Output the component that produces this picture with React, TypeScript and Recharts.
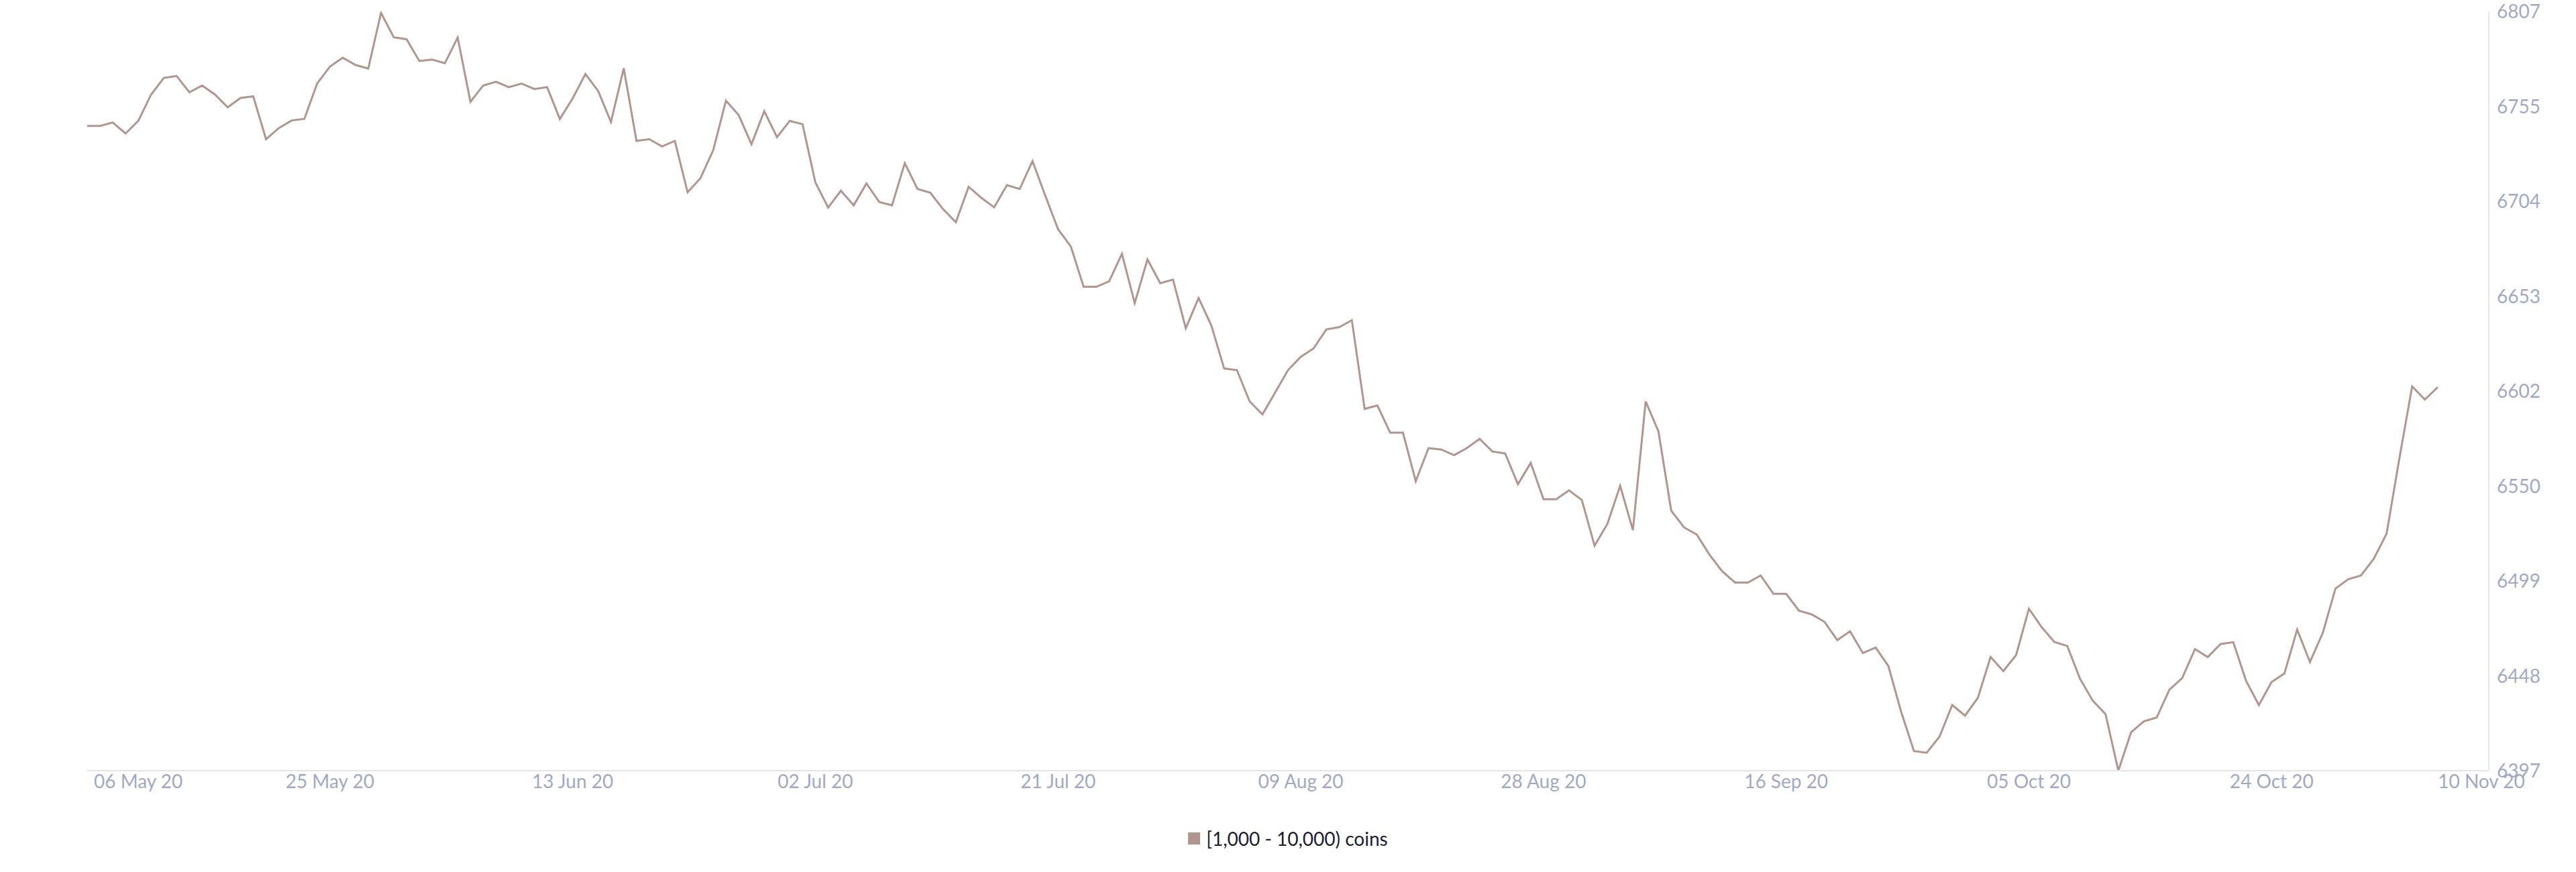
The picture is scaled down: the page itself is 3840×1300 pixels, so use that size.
import React from "react";
import { LineChart, Line, XAxis, YAxis, Legend } from "recharts";

// Daily values, 06 May 2020 -> 06 Nov 2020
const values: number[] = [
  6745.2, 6745.2, 6747.0, 6741.1, 6747.9, 6762.1, 6771.1, 6772.1, 6763.3, 6767.0,
  6762.1, 6755.2, 6760.3, 6761.1, 6738.0, 6744.0, 6748.1, 6749.0, 6768.1, 6777.2,
  6782.0, 6778.1, 6776.1, 6806.2, 6793.0, 6792.0, 6780.2, 6781.0, 6779.0, 6792.9,
  6758.2, 6767.0, 6769.0, 6766.1, 6768.0, 6765.1, 6766.1, 6748.9, 6760.0, 6773.2,
  6764.0, 6747.3, 6776.3, 6737.1, 6738.0, 6734.1, 6737.1, 6709.3, 6716.9, 6731.9,
  6758.8, 6751.0, 6735.3, 6753.1, 6739.1, 6747.9, 6746.1, 6714.7, 6701.1, 6710.2,
  6702.3, 6714.1, 6704.1, 6702.3, 6725.0, 6711.1, 6709.1, 6700.2, 6693.2, 6712.3,
  6706.3, 6701.2, 6713.2, 6711.1, 6726.2, 6707.5, 6689.4, 6680.1, 6658.3, 6658.3,
  6661.3, 6676.1, 6649.5, 6673.1, 6660.2, 6662.2, 6635.9, 6652.3, 6637.4, 6614.2,
  6613.3, 6596.4, 6589.4, 6601.3, 6613.3, 6620.5, 6625.0, 6635.3, 6636.5, 6640.2,
  6592.4, 6594.2, 6579.5, 6579.5, 6553.3, 6571.2, 6570.4, 6567.4, 6571.2, 6576.2,
  6569.4, 6568.3, 6551.7, 6563.2, 6543.6, 6543.6, 6548.4, 6543.2, 6518.5, 6530.2,
  6550.8, 6526.9, 6596.4, 6580.2, 6537.4, 6528.4, 6524.5, 6513.6, 6504.6, 6498.6,
  6498.6, 6502.4, 6492.5, 6492.5, 6483.4, 6481.4, 6477.4, 6467.5, 6472.3, 6460.5,
  6463.5, 6453.5, 6428.8, 6407.6, 6406.7, 6415.4, 6432.5, 6426.7, 6436.3, 6458.4,
  6450.8, 6459.5, 6484.5, 6474.5, 6466.5, 6464.4, 6446.7, 6434.8, 6427.5, 6397.0,
  6417.8, 6423.7, 6425.7, 6440.8, 6447.0, 6462.7, 6458.4, 6465.4, 6466.4, 6445.5,
  6432.5, 6444.9, 6449.5, 6473.2, 6455.7, 6471.3, 6495.4, 6500.4, 6502.4, 6511.5,
  6525.0, 6565.6, 6604.5, 6597.4, 6604.1,
];

const xTickDays: number[] = [0, 19, 38, 57, 76, 95, 114, 133, 152, 171, 188];
const xTickLabels: string[] = [
  "06 May 20", "25 May 20", "13 Jun 20", "02 Jul 20", "21 Jul 20", "09 Aug 20",
  "28 Aug 20", "16 Sep 20", "05 Oct 20", "24 Oct 20", "10 Nov 20",
];

const yTickValues: number[] = [6397, 6448.25, 6499.5, 6550.75, 6602, 6653.25, 6704.5, 6755.75, 6807];
const yTickLabels: string[] = ["6397", "6448", "6499", "6550", "6602", "6653", "6704", "6755", "6807"];

const seriesName = "[1,000 - 10,000) coins";

const data = values.map((v, i) => ({ day: i, value: v }));

const LINE_COLOR = "#b0968e";
const AXIS_COLOR = "#e2e6f0";
const TICK_COLOR = "#9fa9c6";
const FONT = "Lato, 'Open Sans', sans-serif";

const XTick = (props: any) => {
  const { x, y, payload, index } = props;
  const idx = xTickDays.indexOf(payload.value);
  const label = idx >= 0 ? xTickLabels[idx] : "";
  let anchor: "start" | "middle" | "end" = "middle";
  let dx = 0;
  if (index === 0) {
    anchor = "start";
    dx = 10;
  } else if (idx === xTickDays.length - 1) {
    dx = -11;
  }
  return (
    <text x={x + dx} y={y} dy={24} textAnchor={anchor} fill={TICK_COLOR} fontSize={28} fontFamily={FONT}>
      {label}
    </text>
  );
};

const YTick = (props: any) => {
  const { x, y, payload } = props;
  const idx = yTickValues.indexOf(payload.value);
  const label = idx >= 0 ? yTickLabels[idx] : String(Math.floor(payload.value));
  return (
    <text x={x} y={y} dy={10} textAnchor="start" fill={TICK_COLOR} fontSize={28} fontFamily={FONT}>
      {label}
    </text>
  );
};

const LegendContent = () => (
  <div
    style={{
      height: 36,
      display: "flex",
      alignItems: "center",
      justifyContent: "center",
      fontFamily: FONT,
      fontSize: 28,
      color: "#1c1d31",
    }}
  >
    <span style={{ display: "inline-block", width: 18, height: 18, background: LINE_COLOR, marginRight: 9 }} />
    <span>{seriesName}</span>
  </div>
);

export default function App() {
  return (
    <div style={{ position: "absolute", left: 0, top: 0, width: 3840, height: 1300, background: "#fff" }}>
      <LineChart
        width={3840}
        height={1300}
        data={data}
        margin={{ top: 17, right: 0, bottom: 55, left: 130 }}
      >
        <XAxis
          dataKey="day"
          type="number"
          domain={[0, 188]}
          ticks={xTickDays}
          interval={0}
          tick={<XTick />}
          tickLine={false}
          tickSize={0}
          axisLine={{ stroke: AXIS_COLOR, strokeWidth: 2 }}
          height={60}
        />
        <YAxis
          orientation="right"
          domain={[6397, 6807]}
          ticks={yTickValues}
          interval={0}
          allowDataOverflow
          tick={<YTick />}
          tickLine={false}
          tickSize={12}
          tickMargin={0}
          axisLine={{ stroke: AXIS_COLOR, strokeWidth: 2 }}
          width={130}
        />
        <Legend
          verticalAlign="bottom"
          content={<LegendContent />}
          wrapperStyle={{ left: 0, width: 3840, bottom: 32 }}
        />
        <Line
          type="linear"
          dataKey="value"
          name={seriesName}
          stroke={LINE_COLOR}
          strokeWidth={3}
          dot={false}
          activeDot={false}
          isAnimationActive={false}
        />
      </LineChart>
    </div>
  );
}
